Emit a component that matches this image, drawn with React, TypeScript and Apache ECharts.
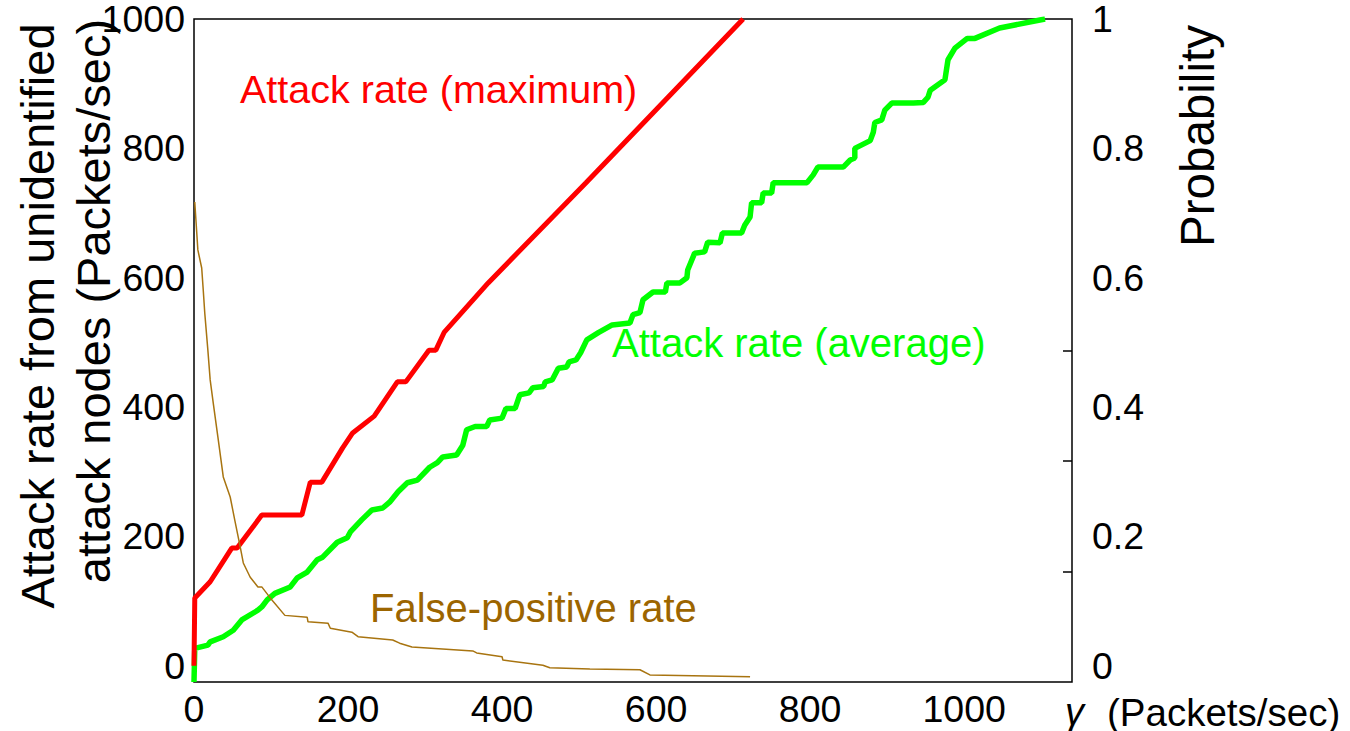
import React, { useEffect, useRef } from "react";
import * as echarts from "echarts";

// x: gamma (Packets/sec), y: attack rate (Packets/sec)
const maxRate: [number, number][] = [
  [0, 0], [1, 105], [21, 130], [49, 182], [56, 182], [88, 233], [140, 233],
  [151, 284], [166, 284], [193, 337], [206, 360], [234, 386], [264, 439],
  [275, 439], [305, 488], [314, 488], [325, 516], [382, 592], [464, 692],
  [509, 747], [713, 1000],
];

const avgRate: [number, number][] = [
  [0, -25], [1, 27], [18, 32], [21, 37], [38, 45], [51, 55], [62, 71], [83, 86],
  [88, 91], [95, 102], [105, 112], [125, 122], [134, 136], [147, 145], [160, 164],
  [167, 168], [186, 191], [199, 198], [203, 207], [218, 226], [231, 241], [245, 244],
  [254, 253], [265, 269], [277, 283], [290, 287], [306, 307], [316, 314], [323, 323],
  [341, 326], [349, 341], [354, 365], [365, 370], [380, 370], [384, 380], [400, 383],
  [405, 398], [417, 398], [423, 419], [435, 422], [440, 430], [454, 432], [456, 439],
  [465, 442], [473, 460], [484, 462], [487, 470], [496, 473], [502, 484], [510, 504],
  [525, 515], [543, 527], [566, 530], [570, 543], [579, 546], [583, 566], [596, 578],
  [612, 578], [614, 592], [631, 592], [640, 600], [641, 612], [650, 638], [663, 640],
  [667, 655], [683, 654], [686, 669], [711, 669], [715, 681], [722, 694], [724, 716],
  [737, 716], [739, 731], [750, 731], [752, 747], [796, 747], [804, 759], [810, 771],
  [843, 771], [852, 782], [858, 785], [858, 800], [878, 812], [882, 825], [884, 840],
  [893, 844], [897, 859], [906, 870], [934, 870], [947, 871], [953, 879], [956, 890],
  [975, 906], [979, 937], [988, 955], [1004, 970], [1014, 970], [1046, 986], [1105, 1000],
];

// probability (right axis)
const falsePositive: [number, number][] = [
  [1, 0.717], [5, 0.643], [10, 0.615], [12, 0.581], [14, 0.545], [18, 0.488],
  [21, 0.442], [25, 0.406], [31, 0.354], [38, 0.292], [47, 0.261], [53, 0.225],
  [60, 0.184], [64, 0.159], [73, 0.137], [83, 0.122], [88, 0.122], [99, 0.105],
  [118, 0.078], [147, 0.075], [148, 0.068], [174, 0.066], [177, 0.058], [205, 0.052],
  [213, 0.045], [258, 0.04], [267, 0.035], [283, 0.029], [362, 0.023], [367, 0.02],
  [400, 0.014], [401, 0.009], [453, 0.001], [462, -0.003], [514, -0.005],
  [579, -0.006], [592, -0.014], [722, -0.017],
];

const xTicks = [0, 200, 400, 600, 800, 1000];
const rateTicks = [0, 200, 400, 600, 800, 1000];
const probTicks = [0, 0.2, 0.4, 0.6, 0.8, 1];
const innerTicks = [1, 2, 3];

const FONT = "'Liberation Sans', Arial, sans-serif";

export default function App() {
  const ref = useRef<HTMLDivElement>(null);
  useEffect(() => {
    if (!ref.current) return;
    const chart = echarts.init(ref.current, null, { renderer: "svg" });
    chart.setOption({
      animation: false,
      backgroundColor: "#fff",
      textStyle: { fontFamily: FONT },
      grid: {
        left: 194, right: 278, top: 19, bottom: 49,
        show: true, borderColor: "#000", borderWidth: 1.5, backgroundColor: "transparent",
      },
      xAxis: {
        type: "value", min: 0, max: 1140,
        axisLine: { show: false }, axisTick: { show: false }, splitLine: { show: false },
        axisLabel: {
          customValues: xTicks, color: "#000", fontSize: 37.5, fontFamily: FONT, margin: 8,
          formatter: (v: number) => String(Math.round(v)),
        },
      },
      yAxis: [
        {
          type: "value", min: -25, max: 1000, position: "left",
          axisLine: { show: false }, axisTick: { show: false }, splitLine: { show: false },
          axisLabel: {
            customValues: rateTicks, color: "#000", fontSize: 37.5, fontFamily: FONT, margin: 9,
            formatter: (v: number) => String(Math.round(v)),
          },
        },
        {
          type: "value", min: -0.025, max: 1, position: "right",
          axisLine: { show: false }, axisTick: { show: false }, splitLine: { show: false },
          axisLabel: {
            customValues: probTicks, color: "#000", fontSize: 37.5, fontFamily: FONT, margin: 20,
            formatter: (v: number) => String(Math.round(v * 10) / 10),
          },
        },
        {
          type: "value", min: 0, max: 6, position: "right",
          axisLine: { show: false }, splitLine: { show: false }, axisLabel: { show: false },
          axisTick: {
            show: true, inside: true, length: 9, customValues: innerTicks,
            lineStyle: { color: "#000", width: 1.5 },
          },
        },
      ],
      series: [
        {
          name: "Attack rate (average)", type: "line", yAxisIndex: 0, data: avgRate,
          showSymbol: false, lineStyle: { color: "#00ff00", width: 5.5 },
        },
        {
          name: "Attack rate (maximum)", type: "line", yAxisIndex: 0, data: maxRate,
          showSymbol: false, lineStyle: { color: "#ff0000", width: 5 },
        },
        {
          name: "False-positive rate", type: "line", yAxisIndex: 1, data: falsePositive,
          showSymbol: false, lineStyle: { color: "#a87410", width: 1.5 },
        },
      ],
      graphic: [
        {
          type: "text", x: 240, y: 89,
          style: { text: "Attack rate (maximum)", fill: "#ff0000", font: `39.5px ${FONT}`, textAlign: "left", textVerticalAlign: "middle" },
        },
        {
          type: "text", x: 612, y: 343,
          style: { text: "Attack rate (average)", fill: "#00ff00", font: `40px ${FONT}`, textAlign: "left", textVerticalAlign: "middle" },
        },
        {
          type: "text", x: 370, y: 608,
          style: { text: "False-positive rate", fill: "#9c6500", font: `40px ${FONT}`, textAlign: "left", textVerticalAlign: "middle" },
        },
        {
          type: "text", x: 37, y: 316, rotation: Math.PI / 2,
          style: { text: "Attack rate from unidentified", fill: "#000", font: `47px ${FONT}`, textAlign: "center", textVerticalAlign: "middle" },
        },
        {
          type: "text", x: 93, y: 301, rotation: Math.PI / 2,
          style: { text: "attack nodes (Packets/sec)", fill: "#000", font: `47px ${FONT}`, textAlign: "center", textVerticalAlign: "middle" },
        },
        {
          type: "text", x: 1197, y: 136, rotation: Math.PI / 2,
          style: { text: "Probability", fill: "#000", font: `47.5px ${FONT}`, textAlign: "center", textVerticalAlign: "middle" },
        },
        {
          type: "text", x: 1065, y: 712,
          style: { text: "γ", fill: "#000", font: `italic 38px ${FONT}`, textAlign: "left", textVerticalAlign: "middle" },
        },
        {
          type: "text", x: 1107, y: 712,
          style: { text: "(Packets/sec)", fill: "#000", font: `38.5px ${FONT}`, textAlign: "left", textVerticalAlign: "middle" },
        },
      ],
    });
    return () => chart.dispose();
  }, []);
  return (
    <div
      ref={ref}
      style={{ position: "fixed", left: 0, top: 0, width: 1350, height: 731, background: "#fff" }}
    />
  );
}
